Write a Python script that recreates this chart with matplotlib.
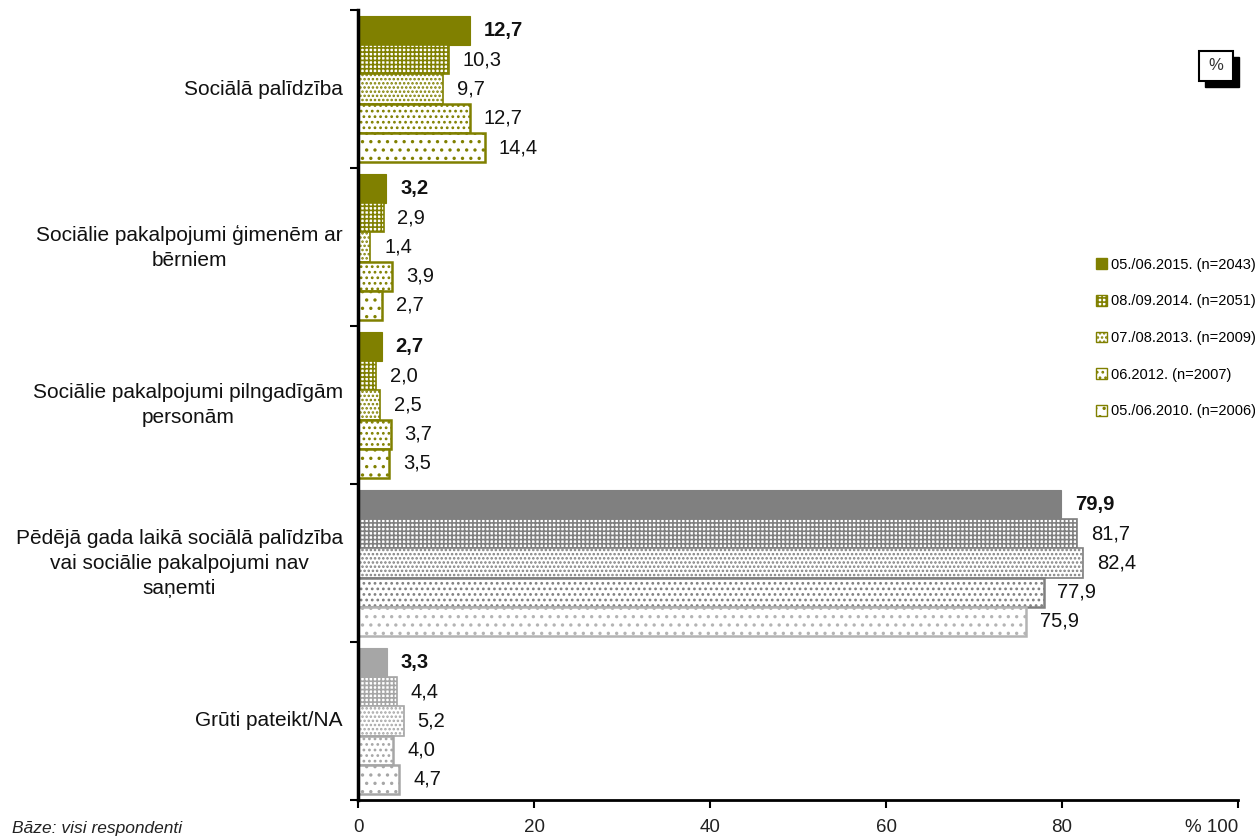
import matplotlib
matplotlib.use('Agg')
import matplotlib.pyplot as plt
from matplotlib.patches import Patch, Rectangle

plt.rcParams['font.family'] = ['Liberation Sans', 'DejaVu Sans']
plt.rcParams['hatch.linewidth'] = 1.2

categories = [
    "Sociālā palīdzība",
    "Sociālie pakalpojumi ģimenēm ar\nbērniem",
    "Sociālie pakalpojumi pilngadīgām\npersonām",
    "Pēdējā gada laikā sociālā palīdzība\nvai sociālie pakalpojumi nav\nsaņemti",
    "Grūti pateikt/NA",
]
series_names = [
    "05./06.2015. (n=2043)",
    "08./09.2014. (n=2051)",
    "07./08.2013. (n=2009)",
    "06.2012. (n=2007)",
    "05./06.2010. (n=2006)",
]
v2015 = [12.7, 3.2, 2.7, 79.9, 3.3]
v2014 = [10.3, 2.9, 2.0, 81.7, 4.4]
v2013 = [9.7, 1.4, 2.5, 82.4, 5.2]
v2012 = [12.7, 3.9, 3.7, 77.9, 4.0]
v2010 = [14.4, 2.7, 3.5, 75.9, 4.7]
series = [v2015, v2014, v2013, v2012, v2010]

group_colors = ['#808000', '#808000', '#808000', '#808080', '#a6a6a6']
hatches = [None, '++++', '....', '...', '..']
bar_h = 0.185

fig = plt.figure(figsize=(12.55, 8.39), dpi=100)
ax = fig.add_axes([0.2853, 0.0465, 0.9865 - 0.2853, 0.988 - 0.0465])

for j, vals in enumerate(series):
    for i, v in enumerate(vals):
        y = i + (j - 2) * bar_h
        col = group_colors[i]
        if i == 3 and j == 4:
            col = '#b4b4b4'
        if j == 0:
            ax.barh(y, v, height=bar_h, color=col, edgecolor=col, linewidth=0.8)
        else:
            ax.barh(y, v, height=bar_h, color='white', edgecolor=col,
                    hatch=hatches[j], linewidth=1.8 if j >= 3 else 1.2)
        ax.annotate(f"{v:.1f}".replace('.', ','), (v, y), xytext=(10, 0),
                    textcoords='offset points', va='center', ha='left',
                    fontsize=14.5, color='#111111',
                    fontweight='bold' if j == 0 else 'normal')

ax.set_xlim(0, 100)
ax.set_ylim(4.5, -0.5)
ax.set_xticks([0, 20, 40, 60, 80, 100])
ax.set_xticklabels(['0', '20', '40', '60', '80', '% 100'], fontsize=13.5, color='#222222')
ax.get_xticklabels()[-1].set_horizontalalignment('right')
ax.set_yticks([-0.5, 0.5, 1.5, 2.5, 3.5, 4.5])
ax.set_yticklabels([])
ax.tick_params(axis='x', length=6, width=1.5, pad=8)
ax.tick_params(axis='y', length=6, width=1.5)
for s in ['top', 'right']:
    ax.spines[s].set_visible(False)
ax.spines['left'].set_linewidth(2.5)
ax.spines['bottom'].set_linewidth(2)

for i, cat in enumerate(categories):
    ax.annotate(cat, (0, i), xycoords=('axes fraction', 'data'), xytext=(-11, 0),
                textcoords='offset points', ha='right', va='center',
                multialignment='center', fontsize=15, color='#111111', linespacing=1.4)

handles = []
for j in range(5):
    if j == 0:
        handles.append(Patch(facecolor='#808000', edgecolor='#808000'))
    else:
        handles.append(Patch(facecolor='white', edgecolor='#808000', hatch=hatches[j]))
fig.legend(handles, series_names, loc='upper left', bbox_to_anchor=(1090 / 1255, 1 - 252 / 839),
           frameon=False, fontsize=10.5, handlelength=0.75, handleheight=0.75,
           handletextpad=0.3, labelspacing=1.55, borderaxespad=0)

# percent box with shadow
fig.patches.append(Rectangle((1205 / 1255, 1 - 87 / 839), 34 / 1255, 30 / 839,
                             transform=fig.transFigure, facecolor='black', edgecolor='black'))
fig.patches.append(Rectangle((1199 / 1255, 1 - 81 / 839), 34 / 1255, 30 / 839,
                             transform=fig.transFigure, facecolor='white', edgecolor='black',
                             linewidth=1.5))
fig.text(1216 / 1255, 1 - 66 / 839, '%', ha='center', va='center', fontsize=12, color='#333333')

fig.text(12 / 1255, 1 - 829 / 839, 'Bāze: visi respondenti', fontsize=12.5, style='italic',
         color='#222222', va='center')

plt.savefig('out.png', dpi=100)
plt.close()
